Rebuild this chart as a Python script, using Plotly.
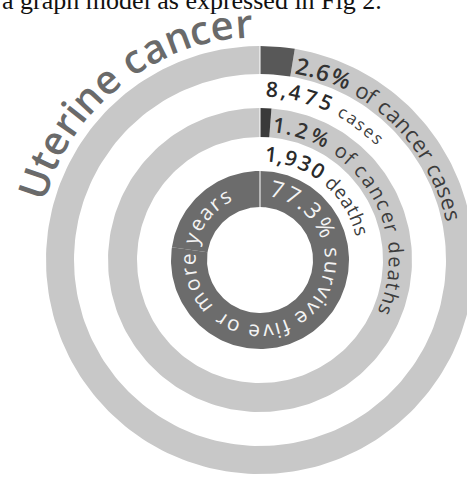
import math
import plotly.graph_objects as go

# ---------------- data ----------------
title_text = "Uterine cancer"
caption_line = "a graph model as expressed in Fig 2."
ring_names = ["cases", "deaths", "survival"]
ring_pcts = [2.6, 1.2, 77.3]           # highlighted share of each ring (%)
case_label = ["2.6%", " of cancer cases"]
case_count = ["8,475", " cases"]
death_label = ["1.2%", " of cancer deaths"]
death_count = ["1,930", " deaths"]
survival_label = ["77.3%", " survive five or more years"]

# ---------------- layout / style ----------------
W, H = 467, 477
CX, CY = 260, 260
RADII = {"cases": (186, 214), "deaths": (123, 152), "survival": (53, 89)}
LIGHT = "#c8c8c8"
DARKS = {"cases": "#585858", "deaths": "#3a3a3a", "survival": "#6c6c6c"}
REST = {"cases": LIGHT, "deaths": LIGHT, "survival": "#6c6c6c"}
FONT = "Open Sans"

W_EM = {" ": .26, "%": .84, ",": .243, ".": .266, "U": .732, "a": .556, "c": .478,
        "d": .613, "e": .561, "f": .339, "h": .614, "i": .253, "m": .93, "n": .614,
        "o": .604, "r": .408, "s": .477, "t": .353, "u": .614, "v": .501, "y": .501}
for dgt in "0123456789":
    W_EM[dgt] = .572


def arc_points(r_in, r_out, a0, a1, n=240):
    steps = max(2, int(n * abs(a1 - a0) / 360) + 2)
    angs = [a0 + (a1 - a0) * k / (steps - 1) for k in range(steps)]
    xs, ys = [], []
    for a in angs:
        t = math.radians(a)
        xs.append(CX + r_out * math.sin(t)); ys.append(CY - r_out * math.cos(t))
    for a in reversed(angs):
        t = math.radians(a)
        xs.append(CX + r_in * math.sin(t)); ys.append(CY - r_in * math.cos(t))
    xs.append(xs[0]); ys.append(ys[0])
    return xs, ys


fig = go.Figure()
for name, pct in zip(ring_names, ring_pcts):
    r_in, r_out = RADII[name]
    end = 360 * pct / 100
    for a0, a1, col in [(end, 360, REST[name]), (0, end, DARKS[name])]:
        xs, ys = arc_points(r_in, r_out, a0, a1)
        fig.add_trace(go.Scatter(x=xs, y=ys, mode="lines", fill="toself",
                                 fillcolor=col, line=dict(width=0), hoverinfo="skip",
                                 showlegend=False))

# thin light separator at the top of the rings
fig.add_trace(go.Scatter(x=[CX, CX], y=[CY - RADII["survival"][0], CY - RADII["cases"][1]],
                         mode="lines", line=dict(color="rgba(255,255,255,0.85)", width=1.2),
                         hoverinfo="skip", showlegend=False))

annotations = []


def arc_text(segments, a_first, a_last, r_base):
    chars = []
    for s, size, weight, color in segments:
        for ch in s:
            chars.append((ch, size, weight, color))
    widths = [W_EM.get(ch, .55) * size * (1.06 if weight >= 600 else 1.0)
              for ch, size, weight, color in chars]
    centers, acc = [], 0.0
    for w in widths:
        centers.append(acc + w / 2); acc += w
    c0, c1 = centers[0], centers[-1]
    for (ch, size, weight, color), c in zip(chars, centers):
        if ch == " ":
            continue
        ang = a_first + (c - c0) / (c1 - c0) * (a_last - a_first)
        r = r_base + 0.388 * size
        t = math.radians(ang)
        rot = ((ang + 180) % 360) - 180
        annotations.append(dict(x=CX + r * math.sin(t), y=CY - r * math.cos(t),
                                xref="x", yref="y", text=ch, showarrow=False,
                                textangle=rot, xanchor="center", yanchor="middle",
                                font=dict(family=FONT, size=size, color=color, weight=weight)))


arc_text([(title_text, 40, 600, "#6a6a6a")], -71, -4, 223)
arc_text([(case_label[0], 23, 600, "#333333"), (case_label[1], 22, 400, "#3c3c3c")], 12.2, 77, 190)
arc_text([(case_count[0], 21, 600, "#2a2a2a"), (case_count[1], 17, 400, "#3c3c3c")], 4, 44.3, 163)
arc_text([(death_label[0], 21, 600, "#333333"), (death_label[1], 20, 400, "#3c3c3c")], 8, 112, 128.5)
arc_text([(death_count[0], 21, 600, "#2a2a2a"), (death_count[1], 19, 400, "#3c3c3c")], 6, 74, 98.5)
arc_text([(survival_label[0], 23, 400, "#f4f4f4"), (survival_label[1], 21, 400, "#f4f4f4")], 14, 331, 64.5)

annotations.append(dict(x=0, y=17.5, xref="x", yref="y", text=caption_line, showarrow=False,
                        xanchor="left", yanchor="bottom",
                        font=dict(family="Liberation Serif", size=26, color="#111111")))

fig.update_layout(
    width=W, height=H, margin=dict(l=0, r=0, t=0, b=0),
    paper_bgcolor="white", plot_bgcolor="white",
    xaxis=dict(range=[0, W], visible=False, fixedrange=True),
    yaxis=dict(range=[H, 0], visible=False, fixedrange=True),
    annotations=annotations, showlegend=False,
)
fig.write_html("out.html")
